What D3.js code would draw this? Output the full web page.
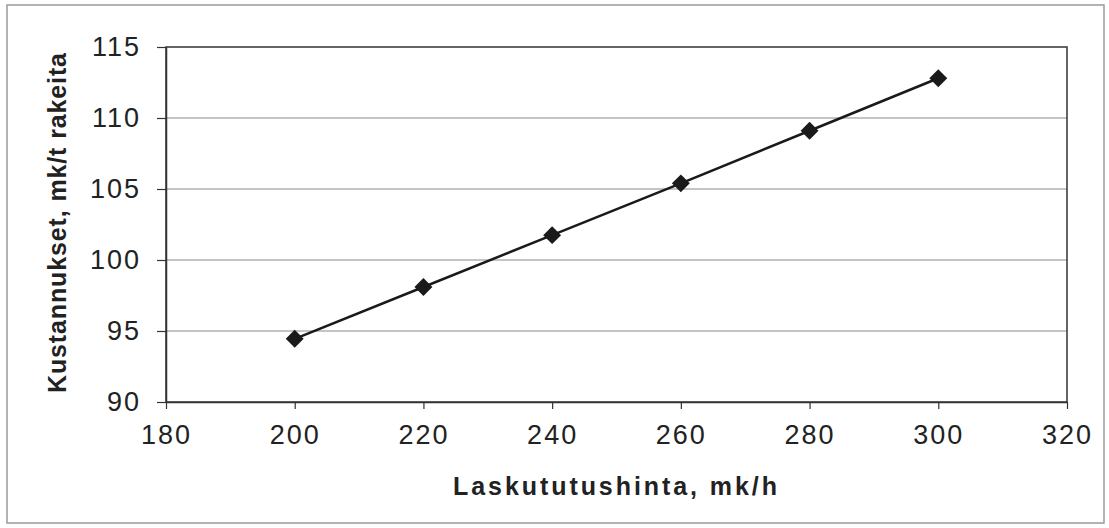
<!DOCTYPE html>
<html>
<head>
<meta charset="utf-8">
<script src="https://cdn.jsdelivr.net/npm/d3@7"></script>
<style>
  body { margin: 0; background: #fff; }
  text { font-family: Arial, "Liberation Sans", sans-serif; fill: #222; }
</style>
</head>
<body>
<script>
var prices = [200, 220, 240, 260, 280, 300];
var costs = [94.45, 98.1, 101.75, 105.4, 109.1, 112.8];
var xTicks = [180, 200, 220, 240, 260, 280, 300, 320];
var yTicks = [90, 95, 100, 105, 110, 115];
var xTitle = 'Laskututushinta, mk/h';
var yTitle = 'Kustannukset, mk/t rakeita';

var svgWidth = 1109;
var svgHeight = 528;
var plot = {left: 166, right: 1067, top: 47, bottom: 402};

var svg = d3.select('body')
  .append('svg')
  .attr('width', svgWidth)
  .attr('height', svgHeight);

// outer chart frame
svg.append('rect')
  .attr('x', 7).attr('y', 5)
  .attr('width', 1097).attr('height', 518)
  .attr('fill', 'none')
  .attr('stroke', '#9a9a9a')
  .attr('stroke-width', 1.5);

var x = d3.scaleLinear().domain([180, 320]).range([plot.left, plot.right]);
var y = d3.scaleLinear().domain([90, 115]).range([plot.bottom, plot.top]);

// gridlines
svg.append('g')
  .selectAll('line')
  .data(yTicks.slice(1, -1))
  .enter()
  .append('line')
  .attr('x1', plot.left).attr('x2', plot.right)
  .attr('y1', function(d) { return y(d); })
  .attr('y2', function(d) { return y(d); })
  .attr('stroke', '#8a8a8a')
  .attr('stroke-width', 1);

// plot frame
svg.append('rect')
  .attr('x', plot.left).attr('y', plot.top)
  .attr('width', plot.right - plot.left)
  .attr('height', plot.bottom - plot.top)
  .attr('fill', 'none')
  .attr('stroke', '#333')
  .attr('stroke-width', 1.5);

var xAxis = svg.append('g')
  .attr('transform', 'translate(0,' + plot.bottom + ')')
  .call(d3.axisBottom(x).tickValues(xTicks).tickSize(7).tickPadding(30).tickSizeOuter(0));
var yAxis = svg.append('g')
  .attr('transform', 'translate(' + plot.left + ',0)')
  .call(d3.axisLeft(y).tickValues(yTicks).tickSize(9).tickPadding(16).tickSizeOuter(0));

[xAxis, yAxis].forEach(function(ax) {
  ax.select('.domain').attr('stroke', '#333').attr('stroke-width', 1.5);
  ax.selectAll('.tick line').attr('stroke', '#333').attr('stroke-width', 1.2);
  ax.selectAll('.tick text')
    .attr('font-family', 'Arial, "Liberation Sans", sans-serif')
    .attr('font-size', 27)
    .attr('letter-spacing', 2)
    .attr('fill', '#222');
});
xAxis.selectAll('.tick text').attr('dy', '0.2em');

// data line
var line = d3.line()
  .x(function(d, i) { return x(prices[i]); })
  .y(function(d) { return y(d); });

svg.append('path')
  .datum(costs)
  .attr('d', line)
  .attr('fill', 'none')
  .attr('stroke', '#1a1a1a')
  .attr('stroke-width', 2.5);

svg.append('g')
  .selectAll('path')
  .data(costs)
  .enter()
  .append('path')
  .attr('d', d3.symbol().type(d3.symbolSquare).size(160))
  .attr('transform', function(d, i) {
    return 'translate(' + x(prices[i]) + ',' + y(d) + ') rotate(45)';
  })
  .attr('fill', '#1a1a1a');

// axis titles
svg.append('text')
  .attr('x', 615).attr('y', 495)
  .attr('text-anchor', 'middle')
  .attr('font-size', 25)
  .attr('font-weight', 'bold')
  .attr('textLength', 324)
  .attr('lengthAdjust', 'spacing')
  .text(xTitle);

svg.append('text')
  .attr('transform', 'translate(66,223) rotate(-90)')
  .attr('text-anchor', 'middle')
  .attr('font-size', 25)
  .attr('font-weight', 'bold')
  .attr('textLength', 340)
  .attr('lengthAdjust', 'spacing')
  .text(yTitle);
</script>
</body>
</html>
